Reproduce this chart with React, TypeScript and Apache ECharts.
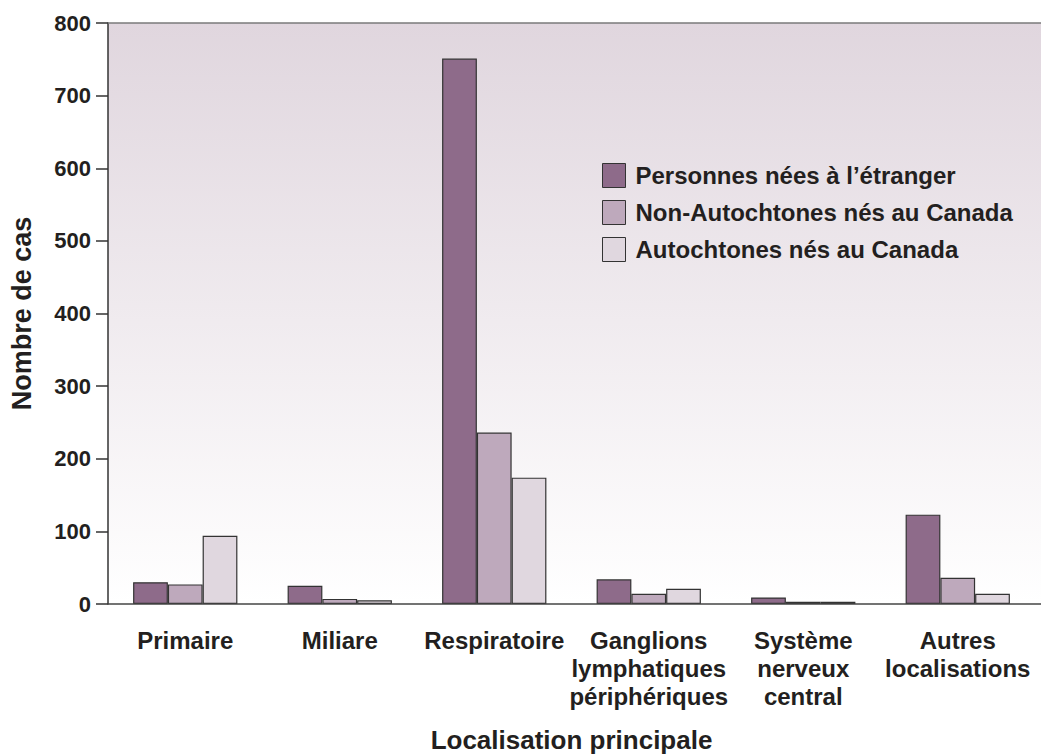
import React, { useEffect, useRef } from "react";
import * as echarts from "echarts";

const categories = [
  "Primaire",
  "Miliare",
  "Respiratoire",
  "Ganglions\nlymphatiques\npériphériques",
  "Système\nnerveux\ncentral",
  "Autres\nlocalisations",
];
const seriesNames = [
  "Personnes nées à l’étranger",
  "Non-Autochtones nés au Canada",
  "Autochtones nés au Canada",
];
const foreignBorn = [30, 25, 751, 34, 9, 123];
const nonAboriginal = [27, 7, 236, 14, 3, 36];
const aboriginal = [94, 5, 174, 21, 3, 14];
const yTicks = [0, 100, 200, 300, 400, 500, 600, 700, 800];

const colors = ["#8e6b8a", "#bea9bc", "#e0d7df"];
const FONT = "'Liberation Sans', Arial, Helvetica, sans-serif";

export default function App() {
  const ref = useRef<HTMLDivElement>(null);
  useEffect(() => {
    document.body.style.margin = "0";
    const chart = echarts.init(ref.current!, null, { renderer: "svg" });
    const L = 108, T = 23, B = 604, W = 1041;
    const data = [foreignBorn, nonAboriginal, aboriginal];
    chart.setOption({
      animation: false,
      textStyle: { fontFamily: FONT },
      grid: {
        left: L,
        top: T,
        right: 6,
        bottom: 755 - B,
        containLabel: false,
        outerBoundsMode: "none",
      },
      graphic: [
        {
          type: "rect",
          z: -10,
          shape: { x: L, y: T, width: W - L, height: B - T },
          style: {
            fill: new echarts.graphic.LinearGradient(0, 0, 0, 1, [
              { offset: 0, color: "#e0d6de" },
              { offset: 1, color: "#ffffff" },
            ]),
          },
        },
        {
          type: "line",
          z: 10,
          shape: { x1: L, y1: T, x2: W, y2: T },
          style: { stroke: "#7a7a7a", lineWidth: 1.5 },
        },
        {
          type: "line",
          z: 10,
          shape: { x1: L, y1: B, x2: W, y2: B },
          style: { stroke: "#444", lineWidth: 1.5 },
        },
      ],
      legend: {
        orient: "vertical",
        left: 597,
        top: 158,
        itemWidth: 23,
        itemHeight: 24,
        itemGap: 12,
        icon: "rect",
        data: seriesNames,
        textStyle: {
          fontFamily: FONT,
          fontWeight: "bold",
          fontSize: 24,
          lineHeight: 24,
          color: "#231f20",
          padding: [0, 0, 0, 5],
        },
        itemStyle: { borderColor: "#333", borderWidth: 1 },
      },
      xAxis: {
        type: "category",
        data: categories,
        name: "Localisation principale",
        nameLocation: "middle",
        nameGap: 123,
        nameTextStyle: { fontFamily: FONT, fontWeight: "bold", fontSize: 26, color: "#231f20" },
        axisLine: { show: false },
        axisTick: { show: false },
        axisLabel: {
          margin: 22,
          fontFamily: FONT,
          fontWeight: "bold",
          fontSize: 24,
          lineHeight: 28,
          color: "#231f20",
          interval: 0,
        },
      },
      yAxis: {
        type: "value",
        min: 0,
        max: 800,
        interval: 100,
        name: "Nombre de cas",
        nameLocation: "middle",
        nameGap: 73,
        nameTextStyle: { fontFamily: FONT, fontWeight: "bold", fontSize: 27, color: "#231f20" },
        splitLine: { show: false },
        axisLine: { show: true, lineStyle: { color: "#333", width: 1.5 } },
        axisTick: { show: true, length: 12, inside: false, lineStyle: { color: "#333", width: 1.5 } },
        axisLabel: {
          margin: 17,
          fontFamily: FONT,
          fontWeight: "bold",
          fontSize: 22,
          color: "#231f20",
          formatter: (v: number) => (yTicks.includes(v) ? String(v) : ""),
        },
      },
      series: seriesNames.map((name, i) => ({
        name,
        type: "bar",
        data: data[i],
        barGap: "0%",
        barCategoryGap: "32.5%",
        itemStyle: { color: colors[i], borderColor: "#333", borderWidth: 1.2 },
      })),
    });
    return () => chart.dispose();
  }, []);
  return <div ref={ref} style={{ width: 1041, height: 755 }} />;
}
